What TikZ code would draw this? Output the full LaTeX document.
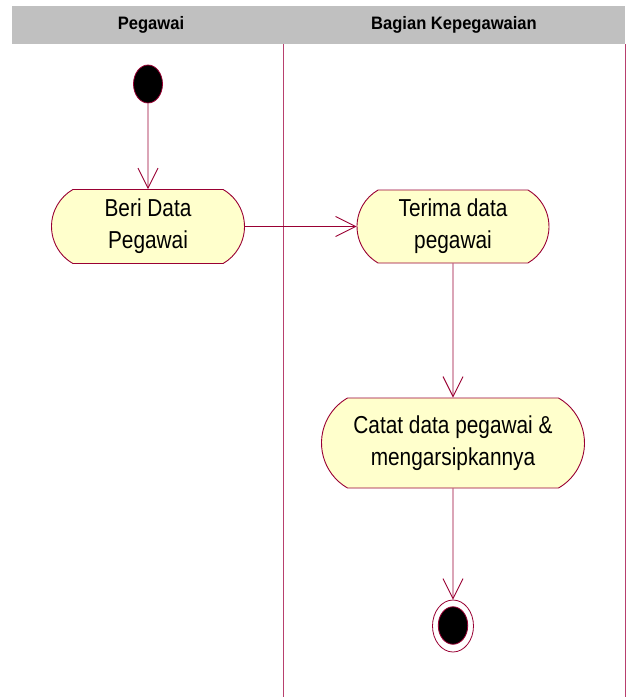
\documentclass[tikz,border=0pt]{standalone}
\usepackage{fontspec}
\newfontfamily\umlfont[FakeStretch=0.85]{Liberation Sans}
\newfontfamily\lanefont[FakeStretch=0.92]{Liberation Sans}
\usetikzlibrary{shapes.misc,shapes.geometric,arrows.meta}
\definecolor{umlline}{HTML}{990033}
\definecolor{umlfill}{HTML}{FFFFCC}
\definecolor{laneline}{HTML}{B8406E}
\definecolor{lanehead}{HTML}{C0C0C0}
\tikzset{
    activity/.style={rounded rectangle, rounded rectangle arc length=120,
        draw=umlline, fill=umlfill, line width=0.9pt, inner sep=0pt, align=center,
        font=\umlfont\fontsize{24.5}{32}\selectfont},
    flow/.style={draw=umlline, line width=0.9pt, -{Straight Barb[length=20pt,width=20pt]}},
    startdot/.style={ellipse, draw=umlline, fill=black, line width=0.8pt, inner sep=0pt},
    enddot/.style={ellipse, draw=umlline, fill=white, line width=0.8pt, inner sep=0pt},
    lanetitle/.style={font=\lanefont\bfseries\fontsize{18}{20}\selectfont}
}

\begin{document}
\begin{tikzpicture}[x=1pt, y=-1pt]
        % Size of the page
        \useasboundingbox (0,0) rectangle (630,697);
        \def\laneleft{12}
        \def\lanemid{283}
        \def\laneright{625}

        % Draw the swimlanes
        \fill[lanehead] (\laneleft,6) rectangle (\laneright,44);
        \draw[laneline, line width=0.7pt] (\lanemid,44) -- (\lanemid,697);
        \draw[laneline, line width=0.7pt] (\laneright,44) -- (\laneright,697);
        \node[lanetitle] (pegawai) at (151,25) {Pegawai};
        \node[lanetitle] (bagian) at (454,25) {Bagian Kepegawaian};

        % Add the activities
        \node[startdot, minimum width=29pt, minimum height=38pt] (start) at (148,84) {};
        \node[activity, minimum width=193pt, minimum height=74pt] (beri) at (148,226.5) {Beri Data\\Pegawai};
        \node[activity, minimum width=192pt, minimum height=73pt] (terima) at (453,226.5) {Terima data\\pegawai};
        \node[activity, minimum width=263pt, minimum height=90pt] (catat) at (453,443) {Catat data pegawai \&\\mengarsipkannya};
        \node[enddot, minimum width=41pt, minimum height=52pt] (final) at (453,626) {};
        \node[startdot, minimum width=29.5pt, minimum height=37.5pt] (finaldot) at (453,625.5) {};

        % Add the transitions
        \draw[flow] (start) -- (beri);
        \draw[flow] (beri) -- (terima);
        \draw[flow] (terima) -- (catat);
        \draw[flow] (catat) -- (final);
    \end{tikzpicture}
\end{document}
